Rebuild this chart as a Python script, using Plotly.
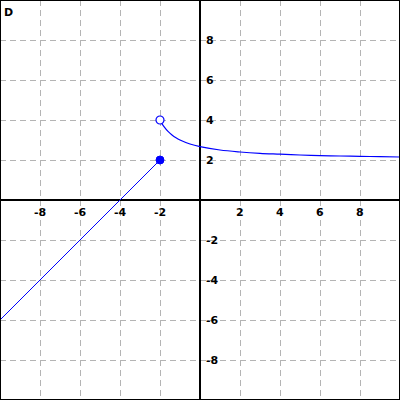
import plotly.graph_objects as go

# values
line_x = [-10, -2]
line_y = [-6, 2]
curve_x = [-2, -1.9, -1.8, -1.6, -1.4, -1.2, -1, -0.5, 0, 1, 2, 3, 4, 5, 6, 7, 8, 9, 10]
curve_y = [4.0, 3.82, 3.67, 3.43, 3.25, 3.11, 3.0, 2.8, 2.67, 2.5, 2.4, 2.33, 2.29, 2.25, 2.22, 2.2, 2.18, 2.17, 2.15]
closed_pt = (-2, 2)
open_pt = (-2, 4)
tick_vals = [-8, -6, -4, -2, 2, 4, 6, 8]
panel_label = "D"

blue = "#0000ff"

fig = go.Figure()
fig.add_trace(go.Scatter(x=line_x, y=line_y, mode="lines",
                         line=dict(color=blue, width=1), showlegend=False))
fig.add_trace(go.Scatter(x=curve_x, y=curve_y, mode="lines",
                         line=dict(color=blue, width=1.2, shape="spline"), showlegend=False))
fig.add_trace(go.Scatter(x=[closed_pt[0]], y=[closed_pt[1]], mode="markers",
                         marker=dict(color=blue, size=8, line=dict(color=blue, width=1)),
                         showlegend=False))
fig.add_trace(go.Scatter(x=[open_pt[0]], y=[open_pt[1]], mode="markers",
                         marker=dict(color="white", size=8, line=dict(color=blue, width=1.2)),
                         showlegend=False))

font = dict(family="DejaVu Sans", size=11, color="black")
for v in tick_vals:
    # x-axis labels below the axis
    fig.add_annotation(x=v, y=0, text="<b>%d</b>" % v, showarrow=False,
                       yshift=-12, font=font, xanchor="center", yanchor="middle")
    # y-axis labels right of the axis
    fig.add_annotation(x=0, y=v, text="<b>%d</b>" % v, showarrow=False,
                       xshift=4, font=font, xanchor="left", yanchor="middle")

fig.add_annotation(xref="paper", yref="paper", x=0.004, y=0.97, text="<b>%s</b>" % panel_label,
                   showarrow=False, xanchor="left", yanchor="middle",
                   font=dict(family="DejaVu Sans", size=11, color="black"))

axis = dict(range=[-10, 10], dtick=2, showgrid=True, gridcolor="#b4b4b4",
            griddash="6px,4px", gridwidth=1, zeroline=True, zerolinecolor="black",
            zerolinewidth=2, showticklabels=False, ticks="", showline=False)

fig.update_layout(
    width=400, height=400,
    margin=dict(l=0, r=0, t=0, b=0),
    plot_bgcolor="white", paper_bgcolor="white",
    xaxis=axis, yaxis=axis,
    shapes=[dict(type="rect", xref="paper", yref="paper", x0=0, y0=0, x1=1, y1=1,
                 line=dict(color="black", width=2))],
)

# page body has an 8px default margin; drop it so the chart fills the window
fig.write_html("out.html", config={"displayModeBar": False},
               post_script="document.body.style.margin='0px';")
